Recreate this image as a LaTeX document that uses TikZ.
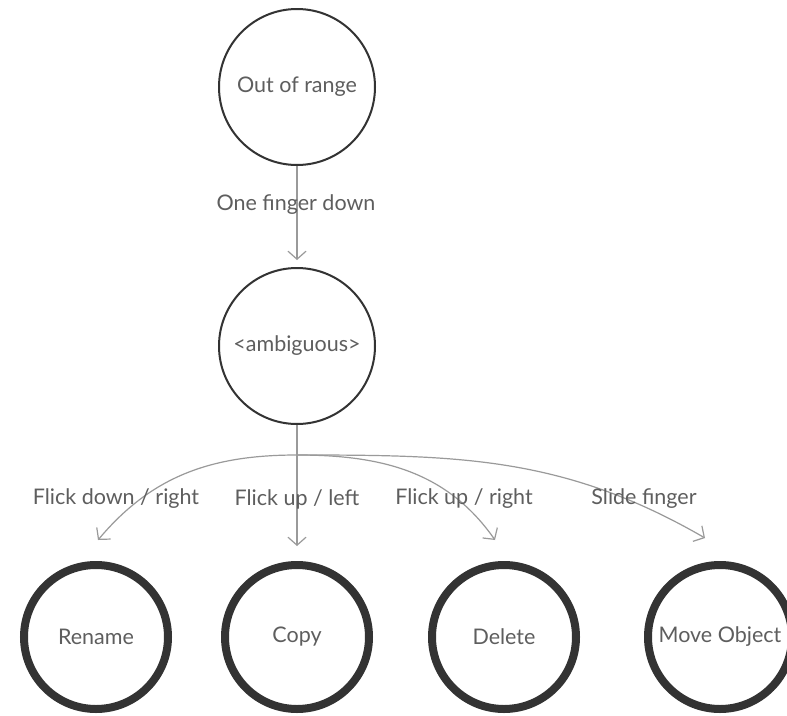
\documentclass[tikz,border=0pt]{standalone}
\usepackage{fontspec}
\setmainfont{Lato}
\usetikzlibrary{arrows.meta}
\definecolor{ring}{HTML}{333333}
\definecolor{txt}{HTML}{5E5E5E}
\definecolor{conn}{HTML}{9A9A9A}
\tikzset{
  state/.style={circle, draw=ring, line width=2pt, minimum size=156pt, inner sep=0pt, text=txt, font=\fontsize{21.5}{24}\selectfont},
  final/.style={circle, draw=ring, line width=8pt, minimum size=144pt, inner sep=0pt, text=txt, font=\fontsize{21.5}{24}\selectfont},
  conn/.style={draw=conn, line width=1.2pt, -{Straight Barb[length=8pt,width=18pt,line width=1.2pt]}},
  lbl/.style={text=txt, font=\fontsize{21.5}{24}\selectfont, inner sep=0pt}
}
\begin{document}
\begin{tikzpicture}[x=1pt,y=-1pt]
\useasboundingbox (0,0) rectangle (787,715);
\fill[white] (0,0) rectangle (787,715);
\node[state] (out) at (297,87) {Out of range};
\node[state] (amb) at (297,346) {<ambiguous>};
\node[final] (ren) at (96,637) {Rename};
\node[final] (cpy) at (297,637) {Copy};
\node[final] (del) at (504,637) {Delete};
\node[final] (mov) at (720,637) {Move Object};
\coordinate (hub) at (297,455);
\coordinate (trn) at (98,540);
\coordinate (tdl) at (495,540);
\coordinate (tmv) at (705,538);
\draw[conn, shorten >=7pt] (out) -- (amb);
\draw[conn, shorten >=15pt] (amb) -- (cpy);
\draw[conn] (hub) to[out=180,in=50] (trn);
\draw[conn] (hub) to[out=0,in=125] (tdl);
\draw[conn] (hub) to[out=0,in=150] (tmv);
\node[lbl] (l1) at (296,205) {One finger down};
\node[lbl] (l2) at (116,499) {Flick down / right};
\node[lbl] (l3) at (297,499) {Flick up / left};
\node[lbl] (l4) at (464,499) {Flick up / right};
\node[lbl] (l5) at (644,499) {Slide finger};
\end{tikzpicture}
\end{document}
